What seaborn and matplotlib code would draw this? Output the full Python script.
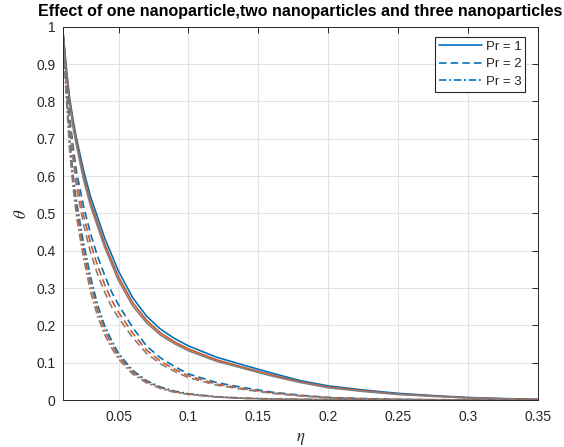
import matplotlib
matplotlib.use("Agg")
import matplotlib.pyplot as plt
from matplotlib.lines import Line2D
import numpy as np
import pandas as pd
import seaborn as sns

# similarity variable
eta = [0.01, 0.0125, 0.015, 0.0175, 0.02, 0.025, 0.03, 0.035, 0.04, 0.045, 0.05,
       0.06, 0.07, 0.08, 0.09, 0.10, 0.12, 0.14, 0.16, 0.18, 0.20, 0.225, 0.25,
       0.275, 0.30, 0.325, 0.35]

# temperature profiles: one / two / three nanoparticles, Pr = 1
theta_pr1_one = [1.0, 0.895, 0.81, 0.75, 0.70, 0.615, 0.545, 0.49, 0.435, 0.39, 0.345,
                 0.275, 0.225, 0.19, 0.165, 0.145, 0.115, 0.093, 0.072, 0.052, 0.038,
                 0.027, 0.018, 0.012, 0.007, 0.004, 0.002]
theta_pr1_two = [1.0, 0.89, 0.80, 0.74, 0.69, 0.60, 0.53, 0.475, 0.42, 0.375, 0.33,
                 0.262, 0.214, 0.18, 0.156, 0.137, 0.108, 0.087, 0.067, 0.049, 0.035,
                 0.025, 0.016, 0.011, 0.006, 0.0035, 0.0015]
theta_pr1_three = [1.0, 0.885, 0.795, 0.73, 0.68, 0.59, 0.52, 0.465, 0.41, 0.365, 0.32,
                   0.253, 0.207, 0.174, 0.151, 0.132, 0.104, 0.084, 0.064, 0.047, 0.033,
                   0.023, 0.015, 0.010, 0.0055, 0.003, 0.001]

# Pr = 2
theta_pr2_one = [1.0, 0.87, 0.76, 0.68, 0.61, 0.52, 0.445, 0.385, 0.335, 0.29, 0.255,
                 0.195, 0.145, 0.113, 0.09, 0.07, 0.047, 0.033, 0.021, 0.013, 0.007,
                 0.004, 0.002, 0.001, 0.0005, 0.0002, 0.0]
theta_pr2_two = [1.0, 0.86, 0.745, 0.66, 0.59, 0.495, 0.42, 0.36, 0.31, 0.268, 0.235,
                 0.18, 0.134, 0.104, 0.083, 0.065, 0.043, 0.03, 0.019, 0.012, 0.0065,
                 0.0035, 0.0018, 0.0009, 0.0004, 0.0001, 0.0]
theta_pr2_three = [1.0, 0.85, 0.73, 0.645, 0.57, 0.47, 0.395, 0.337, 0.29, 0.25, 0.22,
                   0.168, 0.125, 0.097, 0.077, 0.06, 0.04, 0.028, 0.018, 0.011, 0.006,
                   0.003, 0.0015, 0.0007, 0.0003, 0.0001, 0.0]

# Pr = 3
theta_pr3_one = [1.0, 0.84, 0.70, 0.60, 0.53, 0.42, 0.33, 0.255, 0.20, 0.16, 0.125,
                 0.08, 0.052, 0.035, 0.024, 0.017, 0.009, 0.005, 0.003, 0.002, 0.001,
                 0.0005, 0.0002, 0.0001, 0.0, 0.0, 0.0]
theta_pr3_two = [1.0, 0.83, 0.685, 0.585, 0.51, 0.40, 0.31, 0.24, 0.188, 0.15, 0.117,
                 0.075, 0.049, 0.033, 0.022, 0.016, 0.0085, 0.0047, 0.0028, 0.0019, 0.001,
                 0.0005, 0.0002, 0.0001, 0.0, 0.0, 0.0]
theta_pr3_three = [1.0, 0.82, 0.67, 0.57, 0.49, 0.38, 0.29, 0.225, 0.176, 0.14, 0.11,
                   0.07, 0.046, 0.031, 0.021, 0.015, 0.008, 0.0044, 0.0026, 0.0018, 0.0009,
                   0.0004, 0.0002, 0.0001, 0.0, 0.0, 0.0]

pr_labels = ["Pr = 1", "Pr = 2", "Pr = 3"]
x_ticks = [0.05, 0.1, 0.15, 0.2, 0.25, 0.3, 0.35]
x_tick_labels = ["0.05", "0.1", "0.15", "0.2", "0.25", "0.3", "0.35"]
y_ticks = [0, 0.1, 0.2, 0.3, 0.4, 0.5, 0.6, 0.7, 0.8, 0.9, 1.0]
y_tick_labels = ["0", "0.1", "0.2", "0.3", "0.4", "0.5", "0.6", "0.7", "0.8", "0.9", "1"]

sns.set_theme(style="white")
plt.rcParams["font.family"] = ["Liberation Sans", "DejaVu Sans"]
plt.rcParams["mathtext.fontset"] = "stix"

fluid_colors = ["#0072BD", "#D95319", "#808080"]
pr_dashes = ["-", (0, (4.5, 2.5)), (0, (4.5, 1.6, 1.2, 1.6))]

curves = [
    (0, theta_pr1_one), (0, theta_pr1_two), (0, theta_pr1_three),
    (1, theta_pr2_one), (1, theta_pr2_two), (1, theta_pr2_three),
    (2, theta_pr3_one), (2, theta_pr3_two), (2, theta_pr3_three),
]

fig = plt.figure(figsize=(5.64, 4.47), dpi=100)
ax = fig.add_axes([0.111, 0.105, 0.843, 0.835])

for i, (p, vals) in enumerate(curves):
    df = pd.DataFrame({"eta": eta, "theta": vals})
    sns.lineplot(data=df, x="eta", y="theta", ax=ax, color=fluid_colors[i % 3],
                 linestyle=pr_dashes[p], linewidth=1.2, legend=False)

ax.set_xlim(0.01, 0.35)
ax.set_ylim(0, 1)
ax.set_xticks(x_ticks)
ax.set_xticklabels(x_tick_labels)
ax.set_yticks(y_ticks)
ax.set_yticklabels(y_tick_labels)
ax.grid(True, color="#e3e3e3", linewidth=0.8)
ax.set_axisbelow(True)
ax.tick_params(direction="in", length=4, width=0.7, colors="#262626",
               labelsize=10, top=True, right=True)
ax.tick_params(axis="x", pad=7)
ax.tick_params(axis="y", pad=5)
for s in ax.spines.values():
    s.set_color("#262626")
    s.set_linewidth(0.7)

ax.set_xlabel(r"$\eta$", fontsize=12, color="#262626", labelpad=5)
ax.set_ylabel(r"$\theta$", fontsize=12, color="#262626", labelpad=5)
ax.set_title("Effect of one nanoparticle,two nanoparticles and three nanoparticles",
             fontsize=11.5, fontweight="bold", color="black", pad=8)

handles = [Line2D([], [], color=fluid_colors[0], linestyle=pr_dashes[k], linewidth=1.2)
           for k in range(3)]
leg = ax.legend(handles, pr_labels, loc="upper right", bbox_to_anchor=(0.973, 0.973),
                borderaxespad=0, fontsize=9.5, frameon=True, fancybox=False,
                edgecolor="#262626", framealpha=1, handlelength=3.2,
                handletextpad=0.3, labelspacing=0.38, borderpad=0.3)
leg.get_frame().set_linewidth(0.8)

fig.savefig("out.png", dpi=100)
